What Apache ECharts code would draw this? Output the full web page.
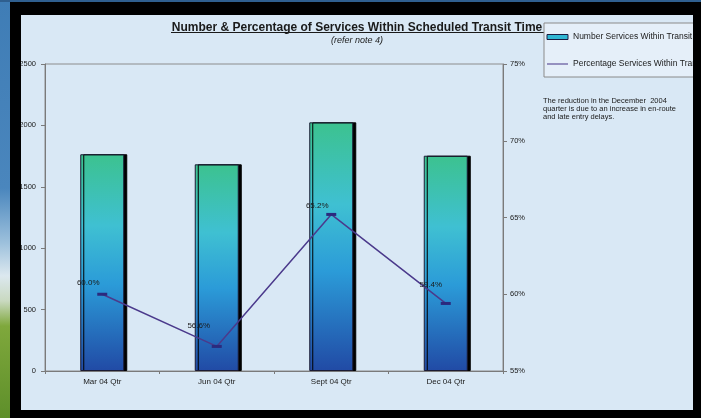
<!DOCTYPE html>
<html>
<head>
<meta charset="utf-8">
<script src="https://cdn.jsdelivr.net/npm/echarts@6/dist/echarts.min.js"></script>
<style>
  html, body { margin: 0; padding: 0; width: 701px; height: 418px; overflow: hidden; background: #000; }
  #sky { position: absolute; left: 0; top: 0; width: 10px; height: 418px;
         background: linear-gradient(to bottom, #3f7db6 0%, #4a86bd 45%, #9cc0dc 58%, #dce8ef 66%, #c9d9c0 72%, #7fa83c 78%, #5e8f2a 100%); }
  #topstrip { position: absolute; left: 0; top: 0; width: 701px; height: 2px; background: #2f5f8f; }
  #chart { position: absolute; left: 21px; top: 15px; width: 672px; height: 395px; background: #d9e8f5; }
</style>
</head>
<body>
<div id="sky"></div>
<div id="topstrip"></div>
<div id="chart"></div>
<script>
// ---- data ----
const categories = ['Mar 04 Qtr', 'Jun 04 Qtr', 'Sept 04 Qtr', 'Dec 04 Qtr'];
const numberServices = [1765, 1683, 2025, 1753];
const percentServices = [60.0, 56.6, 65.2, 59.4];
const leftTicks = { min: 0, max: 2500, interval: 500 };
const rightTicks = { min: 55, max: 75, interval: 5 };
const seriesNames = ['Number Services Within Transit Time', 'Percentage Services Within Transit Time'];
const titleText = 'Number & Percentage of Services Within Scheduled Transit Time';
const subText = '(refer note 4)';
const noteText = 'The reduction in the December  2004\nquarter is due to an increase in en-route\nand late entry delays.';

// ---- style (label nudges per point) ----
const labelNudges = [[-14, -0.5], [-18, -10], [-14, 1.5], [-15, -8]];

const chart = echarts.init(document.getElementById('chart'), null, { renderer: 'canvas' });

const font = 'Liberation Sans, Arial, sans-serif';

chart.setOption({
  backgroundColor: 'transparent',
  animation: false,
  textStyle: { fontFamily: font },
  title: {
    text: titleText,
    subtext: subText,
    left: 'center',
    top: 2,
    itemGap: 2,
    textStyle: { fontSize: 12, fontWeight: 'bold', color: '#1a1a1a', fontFamily: font },
    subtextStyle: { fontSize: 9, fontStyle: 'italic', color: '#1a1a1a', fontFamily: font }
  },
  legend: {
    orient: 'vertical',
    left: 523,
    top: 8,
    padding: [9.5, 60, 8.5, 2.5],
    itemGap: 18,
    itemWidth: 21,
    itemHeight: 5,
    borderColor: '#8a8a8a',
    borderWidth: 1,
    backgroundColor: 'rgba(236,244,251,0.6)',
    textStyle: { fontSize: 8.5, color: '#1a1a1a', fontFamily: font },
    data: [
      { name: seriesNames[0], icon: 'rect', itemStyle: { color: '#2fb6d3', borderColor: '#1a1a40', borderWidth: 1 } },
      { name: seriesNames[1], icon: 'path://M0,0H20V1H0Z', itemStyle: { color: '#4b3a8c' } }
    ]
  },
  grid: {
    left: 24, right: 190, top: 49, bottom: 39,
    containLabel: false,
    outerBoundsMode: 'none',
    show: true, borderColor: '#8c8c8c', borderWidth: 1, backgroundColor: 'transparent'
  },
  xAxis: {
    type: 'category',
    data: categories,
    axisLine: { lineStyle: { color: '#7a7a7a', width: 1 } },
    axisTick: { show: true, length: 3, lineStyle: { color: '#7a7a7a' } },
    axisLabel: { fontSize: 8, color: '#1a1a1a', margin: 7, fontFamily: font }
  },
  yAxis: [
    {
      type: 'value',
      min: leftTicks.min, max: leftTicks.max, interval: leftTicks.interval,
      splitLine: { show: false },
      axisLine: { show: true, lineStyle: { color: '#7a7a7a' } },
      axisTick: { show: true, length: 4, lineStyle: { color: '#7a7a7a' } },
      axisLabel: { fontSize: 7.5, color: '#1a1a1a', margin: 9, fontFamily: font, formatter: v => String(v) }
    },
    {
      type: 'value',
      min: rightTicks.min, max: rightTicks.max, interval: rightTicks.interval,
      splitLine: { show: false },
      axisLine: { show: true, lineStyle: { color: '#7a7a7a' } },
      axisTick: { show: true, length: 4, lineStyle: { color: '#7a7a7a' } },
      axisLabel: { fontSize: 7.5, color: '#1a1a1a', margin: 7, formatter: '{value}%', fontFamily: font }
    }
  ],
  series: [
    {
      name: seriesNames[0],
      type: 'bar',
      yAxisIndex: 0,
      barWidth: 44,
      data: numberServices,
      itemStyle: {
        color: new echarts.graphic.LinearGradient(0, 0, 0, 1, [
          { offset: 0, color: '#3cc28f' },
          { offset: 0.33, color: '#3fc0d2' },
          { offset: 0.6, color: '#2b9bd8' },
          { offset: 1, color: '#214aa5' }
        ]),
        borderColor: '#1b1b33',
        borderWidth: 1,
        shadowColor: '#000',
        shadowOffsetX: 3,
        shadowOffsetY: 0,
        shadowBlur: 0
      }
    },
    {
      name: seriesNames[1],
      type: 'line',
      yAxisIndex: 1,
      z: 5,
      symbol: 'rect',
      symbolSize: [10, 3],
      lineStyle: { color: '#4b3a8c', width: 1.5 },
      itemStyle: { color: '#2b2a7e' },
      data: percentServices.map((v, i) => ({
        value: v,
        label: { offset: labelNudges[i] }
      })),
      label: {
        show: true,
        position: 'top',
        fontSize: 8,
        color: '#1a1a1a',
        fontFamily: font,
        formatter: p => p.value.toFixed(1) + '%'
      }
    }
  ],
  graphic: [
    {
      type: 'line',
      shape: { x1: 150, y1: 17.5, x2: 523, y2: 17.5 },
      style: { stroke: '#1a1a1a', lineWidth: 1 }
    },
    {
      type: 'text',
      left: 522,
      top: 82,
      style: { text: noteText, fontSize: 7.5, lineHeight: 8, fill: '#1a1a1a', fontFamily: font }
    }
  ]
});
</script>
</body>
</html>
